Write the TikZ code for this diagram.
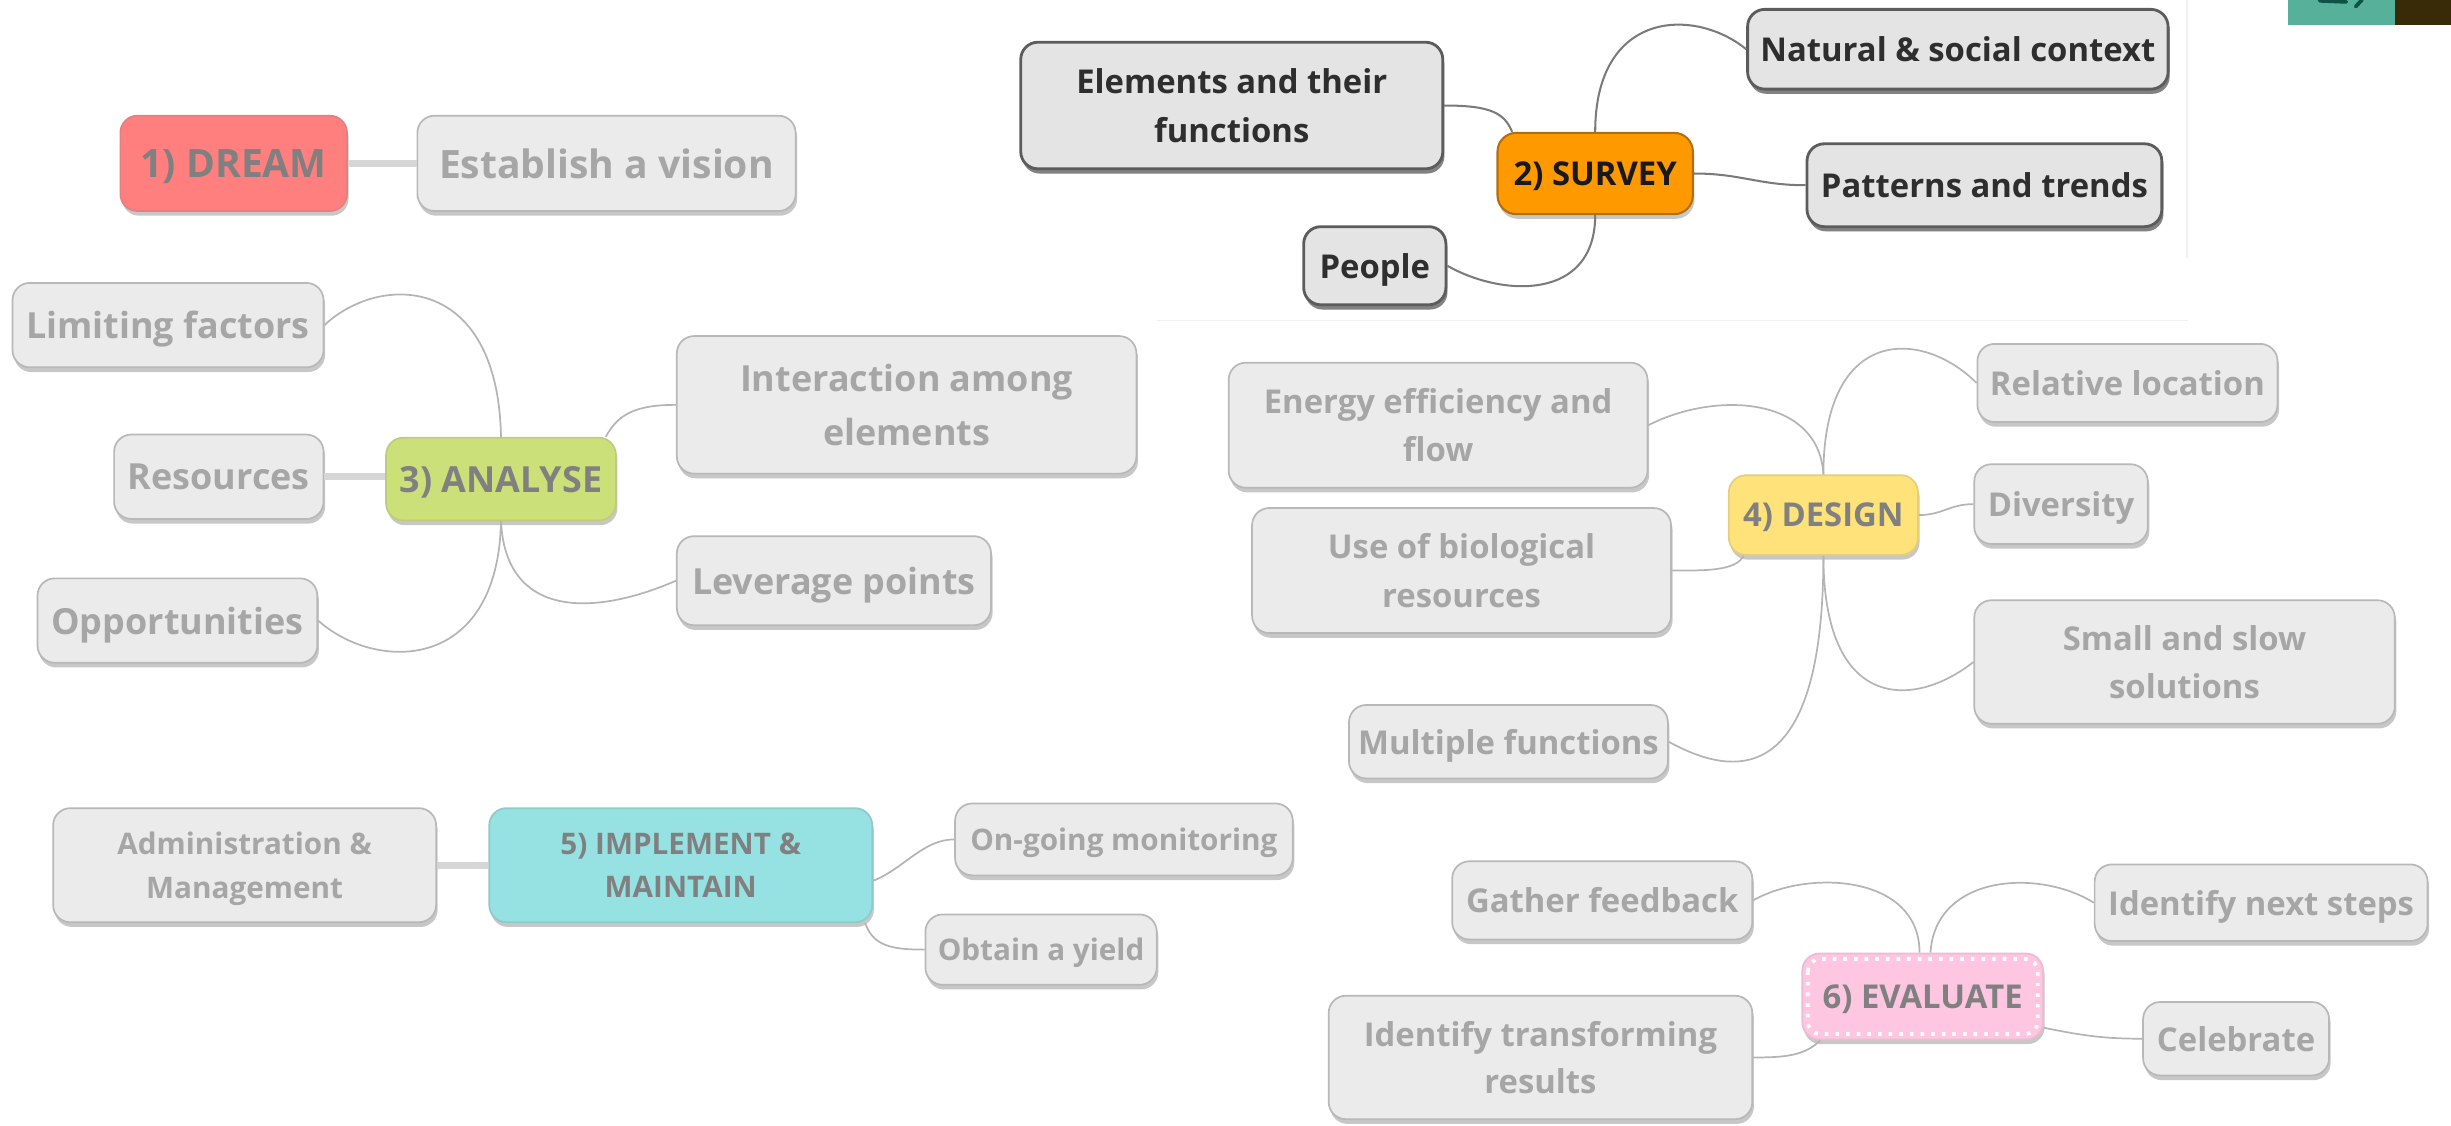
\documentclass[tikz,border=0pt]{standalone}
\usepackage{fontspec}
\setmainfont{Open Sans}
\usetikzlibrary{shadows}
\definecolor{cfill}{HTML}{EBEBEB}
\definecolor{cborder}{HTML}{B8B8B8}
\definecolor{ctext}{HTML}{A6A6A6}
\definecolor{sfill}{HTML}{E4E4E4}
\definecolor{sborder}{HTML}{5C5C5C}
\definecolor{stext}{HTML}{2E2E2E}
\definecolor{dreamc}{HTML}{FF7F7F}
\definecolor{surveyc}{HTML}{FF9900}
\definecolor{surveyb}{HTML}{B06E10}
\definecolor{analysec}{HTML}{CCE07A}
\definecolor{designc}{HTML}{FFE27A}
\definecolor{implc}{HTML}{96E2E2}
\definecolor{evalc}{HTML}{FFC6E2}
\definecolor{maintext}{HTML}{808080}
\definecolor{linkc}{HTML}{B4B4B4}
\definecolor{slinkc}{HTML}{7A7A7A}
\definecolor{thickc}{HTML}{D6D6D6}
\definecolor{tealc}{HTML}{57B09A}
\definecolor{browndark}{HTML}{3A2B08}
\definecolor{glyphc}{HTML}{0C5245}
\definecolor{framec}{HTML}{F0F0F0}
\begin{document}
\begin{tikzpicture}[x=1pt,y=-1pt,
  box/.style={rounded corners=11pt, inner sep=0pt, align=center, text depth=0pt,
    drop shadow={shadow xshift=1pt, shadow yshift=-3pt, opacity=0.22, fill=black}},
  fs/.style 2 args={font=\bfseries\fontsize{#1}{#2}\selectfont},
  child/.style={box, fill=cfill, draw=cborder, line width=1.1pt, text=ctext},
  schild/.style={box, fill=sfill, draw=sborder, line width=1.8pt, text=stext,
    drop shadow={shadow xshift=1pt, shadow yshift=-3pt, opacity=0.35, fill=black}},
  mainnode/.style={box, line width=1.1pt, text=maintext},
  link/.style={draw=linkc, line width=1.1pt},
  slink/.style={draw=slinkc, line width=1.3pt},
  thick link/.style={draw=thickc, line width=4.5pt}
]
\useasboundingbox (0,0) rectangle (1568,720);

% faint frame of the survey panel
\draw[framec, line width=1pt] (740,205) -- (1400,205);
\draw[framec, line width=1pt] (1399,0) -- (1399,165);

% corner fragment
\fill[tealc] (1464,0) rectangle (1532,15.7);
\fill[browndark] (1532,0) rectangle (1568,15.7);
\draw[glyphc, line width=2.4pt, line cap=round] (1484,0.5) -- (1501,1.2);
\draw[glyphc, line width=2.4pt, line cap=round] (1511,0) -- (1507,4.2);

% ---------- 1) DREAM ----------
\node[mainnode, fill=dreamc, draw=dreamc!80!gray, fs={25}{30}, minimum width=145pt, minimum height=61pt] (dream) at (149.5,104.5) {1) DREAM};
\node[child, fs={25}{30}, minimum width=242pt, minimum height=61pt] (vision) at (388,104.5) {Establish a vision};
\draw[thick link] (dream.east) -- (vision.west);

% ---------- 2) SURVEY ----------
\node[box, fill=surveyc, draw=surveyb, line width=1.3pt, text=black!90, fs={21}{26}, minimum width=125pt, minimum height=52pt, rounded corners=12pt] (survey) at (1020.5,111) {2) SURVEY};
\node[schild, fs={21}{31}, minimum width=270pt, minimum height=81pt] (elements) at (788,67.5) {Elements and their\\functions};
\node[schild, fs={21}{26}, minimum width=269pt, minimum height=51pt] (natural) at (1252.5,31.5) {Natural \& social context};
\node[schild, fs={21}{26}, minimum width=227pt, minimum height=53pt] (patterns) at (1269.5,118.5) {Patterns and trends};
\node[schild, fs={21}{26}, minimum width=91pt, minimum height=50pt] (people) at (879.5,170) {People};
\draw[slink] (survey.north) .. controls +(0,-78) and +(-33,-27) .. (natural.west);
\draw[slink] (elements.east) .. controls +(30,0) and +(-5,-12) .. ([xshift=10pt]survey.north west);
\draw[slink] (survey.east) .. controls +(30,0) and +(-30,0) .. (patterns.west);
\draw[slink] (survey.south) .. controls +(0,55) and +(35,20) .. (people.east);

% ---------- 3) ANALYSE ----------
\node[mainnode, fill=analysec, draw=analysec!80!gray, fs={23}{28}, minimum width=147pt, minimum height=53pt] (analyse) at (320.5,306.5) {3) ANALYSE};
\node[child, fs={23}{28}, minimum width=199pt, minimum height=54pt] (limiting) at (107.5,208) {Limiting factors};
\node[child, fs={23}{28}, minimum width=134pt, minimum height=54pt] (resources) at (140,305) {Resources};
\node[child, fs={23}{28}, minimum width=179pt, minimum height=54pt] (opport) at (113.5,397) {Opportunities};
\node[child, fs={23}{34}, minimum width=294pt, minimum height=88pt] (interaction) at (580,259) {Interaction among\\elements};
\node[child, fs={23}{28}, minimum width=201pt, minimum height=57pt] (leverage) at (533.5,371.5) {Leverage points};
\draw[link] (analyse.north) .. controls +(-2,-105) and +(35,-33) .. (limiting.east);
\draw[thick link] (analyse.west |- resources.east) -- (resources.east);
\draw[link] (analyse.south) .. controls +(-2,97) and +(37,33) .. (opport.east);
\draw[link] ([xshift=-7pt]analyse.north east) .. controls +(8,-15) and +(-25,0) .. (interaction.west);
\draw[link] (analyse.south) .. controls +(3,62) and +(-53,23) .. (leverage.west);

% ---------- 4) DESIGN ----------
\node[mainnode, fill=designc, draw=designc!80!gray, fs={21}{26}, minimum width=121pt, minimum height=51pt] (design) at (1166.5,329.5) {4) DESIGN};
\node[child, fs={21}{31}, minimum width=268pt, minimum height=80pt] (energy) at (920,272) {Energy efficiency and\\flow};
\node[child, fs={21}{31}, minimum width=268pt, minimum height=80pt] (use) at (935,365) {Use of biological\\resources};
\node[child, fs={21}{26}, minimum width=204pt, minimum height=47pt] (multiple) at (965,474.5) {Multiple functions};
\node[child, fs={21}{26}, minimum width=192pt, minimum height=50pt] (relative) at (1361,245) {Relative location};
\node[child, fs={21}{26}, minimum width=111pt, minimum height=51pt] (diversity) at (1318.5,322.5) {Diversity};
\node[child, fs={21}{31}, minimum width=269pt, minimum height=79pt] (small) at (1397.5,423.5) {Small and slow\\solutions};
\draw[link] (design.north) .. controls +(-3,-50) and +(43,-22) .. (energy.east);
\draw[link] (design.north) .. controls +(0,-95) and +(-35,-35) .. (relative.west);
\draw[link] (design.east) .. controls +(15,0) and +(-15,0) .. (diversity.west);
\draw[link] ([xshift=10pt]design.south west) .. controls +(-5,10) and +(20,0) .. (use.east);
\draw[link] (design.south) .. controls +(0,100) and +(-38,30) .. (small.west);
\draw[link] (design.south) .. controls +(0,145) and +(45,25) .. (multiple.east);

% ---------- 5) IMPLEMENT & MAINTAIN ----------
\node[mainnode, fill=implc, draw=implc!75!gray, fs={19}{28}, minimum width=245pt, minimum height=73pt] (implement) at (435.5,553.5) {5) IMPLEMENT \&\\MAINTAIN};
\node[child, fs={19}{28}, minimum width=245pt, minimum height=73pt] (admin) at (156.5,553.5) {Administration \&\\Management};
\node[child, fs={19}{24}, minimum width=216pt, minimum height=46pt] (ongoing) at (719,537) {On-going monitoring};
\node[child, fs={19}{24}, minimum width=148pt, minimum height=45pt] (obtain) at (666,607.5) {Obtain a yield};
\draw[thick link] (admin.east) -- (implement.west);
\draw[link] ([yshift=-10pt]implement.east) .. controls +(20,-8) and +(-20,0) .. (ongoing.west);
\draw[link] ([xshift=-5pt]implement.south east) .. controls +(5,15) and +(-20,0) .. (obtain.west);

% ---------- 6) EVALUATE ----------
\node[mainnode, fill=evalc, draw=evalc!85!gray, fs={21}{26}, minimum width=154pt, minimum height=55pt] (evaluate) at (1230,637.5) {6) EVALUATE};
\draw[white, line width=2.4pt, dash pattern=on 2.2pt off 4.6pt, rounded corners=8pt]
  ([shift={(4pt,-4pt)}]evaluate.north west) rectangle ([shift={(-4pt,4pt)}]evaluate.south east);
\node[child, fs={21}{26}, minimum width=192pt, minimum height=50pt] (gather) at (1025,576) {Gather feedback};
\node[child, fs={21}{26}, minimum width=213pt, minimum height=49pt] (next) at (1446.5,577.5) {Identify next steps};
\node[child, fs={21}{30}, minimum width=271pt, minimum height=79pt] (transforming) at (985.5,676.5) {Identify transforming\\results};
\node[child, fs={21}{26}, minimum width=119pt, minimum height=47pt] (celebrate) at (1430.5,664.5) {Celebrate};
\draw[link] ([xshift=-2pt]evaluate.north) .. controls +(0,-50) and +(35,-20) .. (gather.east);
\draw[link] ([xshift=5pt]evaluate.north) .. controls +(3,-50) and +(-35,-22) .. (next.west);
\draw[link] ([xshift=12pt]evaluate.south west) .. controls +(-10,10) and +(20,0) .. (transforming.east);
\draw[link] ([yshift=-20pt]evaluate.east) .. controls +(25,5) and +(-25,0) .. (celebrate.west);
\end{tikzpicture}
\end{document}
